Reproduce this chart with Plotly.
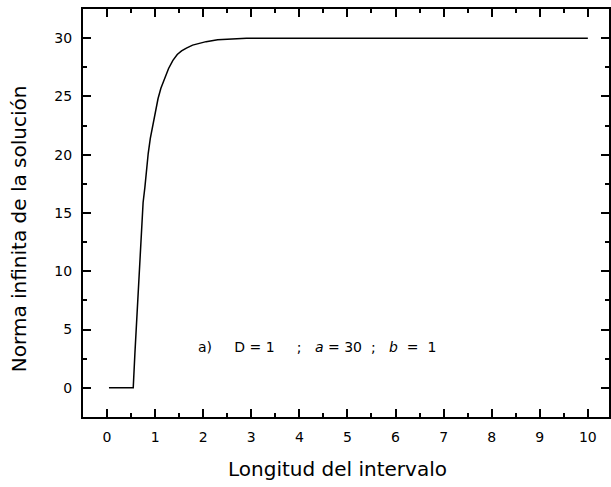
import plotly.graph_objects as go

x_vals = [0.04, 0.545, 0.58, 0.615, 0.65, 0.683, 0.717, 0.75, 0.787, 0.82, 0.856, 0.9, 0.96, 1.01, 1.06, 1.12, 1.2, 1.28, 1.37, 1.46,
          1.55, 1.65, 1.78, 1.9, 2.06, 2.3, 2.61, 2.9, 3.58, 5.0, 7.0, 10.0]
y_vals = [0.0, 0.0, 3.0, 5.8, 8.7, 11.6, 14.4, 15.9, 17.2, 18.7, 20.1, 21.4, 22.8, 23.9, 24.8, 25.7, 26.6, 27.4, 28.1, 28.6,
          28.9, 29.15, 29.4, 29.55, 29.7, 29.87, 29.96, 30.0, 30.0, 30.0, 30.0, 30.0]

x_ticks = [0, 1, 2, 3, 4, 5, 6, 7, 8, 9, 10]
y_ticks = [0, 5, 10, 15, 20, 25, 30]

x_title = "Longitud del intervalo"
y_title = "Norma infinita de la solución"
NB = "\u00a0"
note = ("a)" + NB * 5 + "D" + NB + "=" + NB + "1" + NB * 5 + ";" + NB * 3 + "<i>a</i>" + NB + "=" + NB + "30"
        + NB * 2 + ";" + NB * 3 + "<i>b</i>" + NB * 2 + "=" + NB * 2 + "1")

FONT = "DejaVu Sans, Liberation Sans, Arial, sans-serif"

fig = go.Figure()
fig.add_trace(go.Scatter(x=x_vals, y=y_vals, mode="lines",
                         line=dict(color="black", width=1.5),
                         showlegend=False, hoverinfo="skip"))

axis_common = dict(
    showline=True, linecolor="black", linewidth=2, mirror="ticks",
    ticks="inside", ticklen=8, tickwidth=2, tickcolor="black",
    showgrid=False, zeroline=False,
    tickfont=dict(family=FONT, size=14, color="black"),
)

fig.update_xaxes(range=[-0.5, 10.44], tickvals=x_ticks,
                 minor=dict(ticks="inside", ticklen=4, tickwidth=2, tickcolor="black", dtick=0.5, tick0=0, showgrid=False),
                 ticklabelstandoff=6, **axis_common)
fig.update_yaxes(range=[-2.5, 32.5], tickvals=y_ticks,
                 minor=dict(ticks="inside", ticklen=4, tickwidth=2, tickcolor="black", dtick=2.5, tick0=0, showgrid=False),
                 ticklabelstandoff=6, **axis_common)

fig.add_annotation(x=1.86, y=3.5, xref="x", yref="y", text=note, showarrow=False,
                   xanchor="left", yanchor="middle", font=dict(family=FONT, size=14, color="black"))
fig.add_annotation(x=0.483, y=-0.127, xref="paper", yref="paper", text=x_title, showarrow=False,
                   xanchor="center", yanchor="middle", font=dict(family=FONT, size=20, color="black"))
fig.add_annotation(x=-0.1212, y=0.461, xref="paper", yref="paper", text=y_title, showarrow=False,
                   textangle=-90, xanchor="center", yanchor="middle", font=dict(family=FONT, size=20, color="black"))

fig.update_layout(width=611, height=487, margin=dict(l=83, r=0, t=9, b=70),
                  plot_bgcolor="white", paper_bgcolor="white")

page_js = ("document.documentElement.style.overflow='hidden';"
           "document.body.style.margin='0';document.body.style.overflow='hidden';")
fig.write_html("out.html", post_script=page_js, config={"displayModeBar": False})
